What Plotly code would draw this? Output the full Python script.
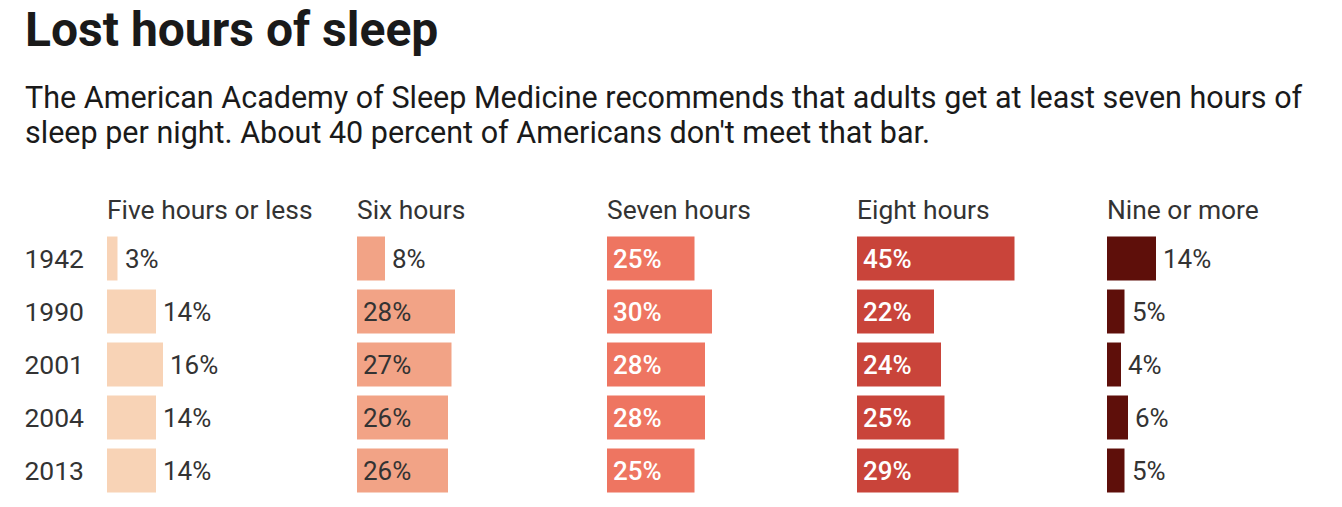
import plotly.graph_objects as go

years = ["1942", "1990", "2001", "2004", "2013"]
categories = ["Five hours or less", "Six hours", "Seven hours", "Eight hours", "Nine or more"]
five_or_less = [3, 14, 16, 14, 14]
six_hours = [8, 28, 27, 26, 26]
seven_hours = [25, 30, 28, 28, 25]
eight_hours = [45, 22, 24, 25, 29]
nine_or_more = [14, 5, 4, 6, 5]
series = [five_or_less, six_hours, seven_hours, eight_hours, nine_or_more]

colors = ["#f8d3b6", "#f2a386", "#ee7561", "#c9443a", "#5e0f0a"]
inside_text_colors = ["#333333", "#333333", "#ffffff", "#ffffff", "#ffffff"]

W, H = 1342, 507
L_MARGIN = 107
T_MARGIN = 232
PX_PER_PCT = 3.5
COL_W = 250
plot_w = W - L_MARGIN
INSIDE_MIN = 20

fig = go.Figure()
annotations = []
layout_axes = {}
FONT = "Roboto"
HDR = 26.4
VAL = 26
YR = 26.5

for i, (cat, vals) in enumerate(zip(categories, series)):
    ax = "x" if i == 0 else f"x{i+1}"
    axkey = "xaxis" if i == 0 else f"xaxis{i+1}"
    d0 = i * COL_W / plot_w
    d1 = min(1.0, (i * COL_W + 240) / plot_w)
    width_px = (d1 - d0) * plot_w
    layout_axes[axkey] = dict(
        domain=[d0, d1], range=[0, width_px / PX_PER_PCT], anchor="y",
        showgrid=False, zeroline=False, showticklabels=False, showline=False,
        fixedrange=True, automargin=False,
    )
    fig.add_trace(go.Bar(
        x=vals, y=years, orientation="h", xaxis=ax, yaxis="y",
        marker=dict(color=colors[i], line=dict(width=0)),
        hoverinfo="skip", showlegend=False,
    ))
    # column header
    annotations.append(dict(
        text=cat, xref="paper", yref="paper", x=d0, y=1, xanchor="left",
        yanchor="bottom", yshift=5, showarrow=False, xshift=-2,
        font=dict(family=FONT, size=HDR, color="#333333"),
    ))
    for j, v in enumerate(vals):
        inside = v >= INSIDE_MIN
        annotations.append(dict(
            text=f"{v}%", xref=ax, yref="y",
            x=0 if inside else v, y=j, xanchor="left", yanchor="middle",
            xshift=4 if inside else 5, showarrow=False,
            font=dict(family=FONT, size=VAL,
                      color=inside_text_colors[i] if inside else "#333333",
                      weight=500 if (inside and inside_text_colors[i] == "#ffffff") else 400),
        ))

# title and subtitle
x_left = (23 - L_MARGIN) / plot_w
annotations.append(dict(
    text="<b>Lost hours of sleep</b>", xref="paper", yref="paper",
    x=x_left, y=1, yshift=T_MARGIN - 29, yanchor="middle", xanchor="left",
    showarrow=False, font=dict(family=FONT, size=48, color="#1a1a1a"),
))
subtitle_lines = [
    "The American Academy of Sleep Medicine recommends that adults get at least seven hours of",
    "sleep per night. About 40 percent of Americans don't meet that bar.",
]
for k, line in enumerate(subtitle_lines):
    annotations.append(dict(
        text=line, xref="paper", yref="paper", align="left",
        x=x_left, y=1, yshift=T_MARGIN - 78 - 35 * k, yanchor="top", xanchor="left",
        showarrow=False, font=dict(family=FONT, size=30.5, color="#1a1a1a"),
    ))

fig.update_layout(
    width=W, height=H,
    margin=dict(l=L_MARGIN, r=0, t=T_MARGIN, b=10),
    paper_bgcolor="white", plot_bgcolor="white",
    bargap=0.17,
    yaxis=dict(
        type="category",
        categoryorder="array", categoryarray=years, range=[4.5, -0.5],
        showgrid=False, zeroline=False, showline=False, ticks="",
        ticklabelstandoff=22, tickfont=dict(family=FONT, size=YR, color="#333333"),
        fixedrange=True, automargin=False,
    ),
    annotations=annotations,
    **layout_axes,
)

fig.write_html(
    "out.html",
    config={"displayModeBar": False},
    post_script="document.body.style.margin='0px';document.body.style.overflow='hidden';",
)
